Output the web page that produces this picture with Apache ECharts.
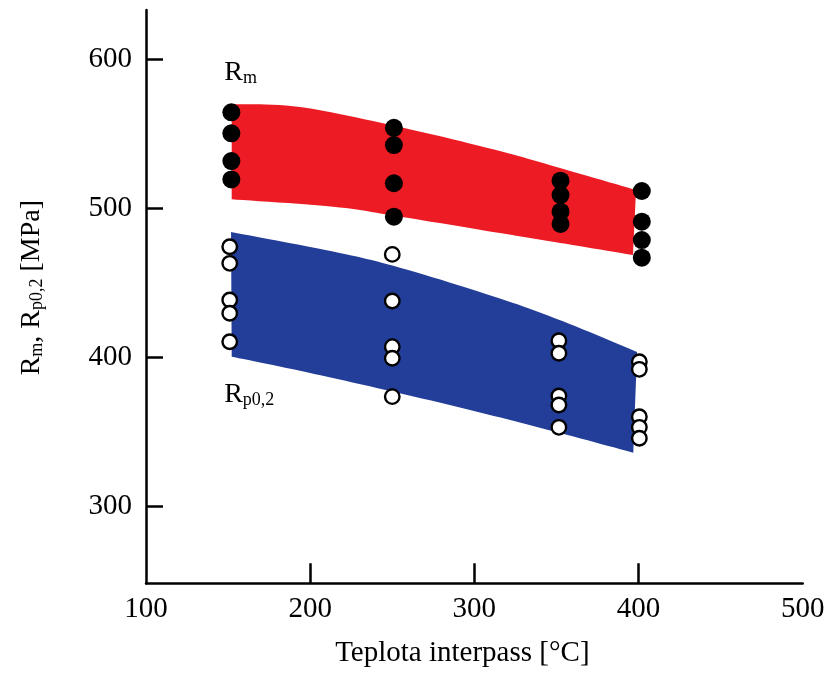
<!DOCTYPE html>
<html>
<head>
<meta charset="utf-8">
<script src="https://cdn.jsdelivr.net/npm/echarts@6/dist/echarts.min.js"></script>
<style>
html,body{margin:0;padding:0;background:#fff;}
#chart{width:833px;height:681px;}
</style>
</head>
<body>
<div id="chart"></div>
<script>
// ---- data ----
const xTickValues = [200, 300, 400];
const xLabelValues = [100, 200, 300, 400, 500];
const yTickValues = [300, 400, 500, 600];

// Rm points (filled black)
const rmTemp  = [152, 152, 152, 152, 251, 251, 251, 251, 352.5, 352.5, 352.5, 352.5, 402, 402, 402, 402];
const rmValue = [564.5, 550.4, 531.8, 519.5, 554.1, 542.5, 516.9, 494.5, 518.6, 509.0, 497.8, 489.6, 511.7, 491.1, 478.8, 467.0];

// Rp0,2 points (open circles)
const rpTemp  = [151, 151, 151, 151, 151, 250, 250, 250, 250, 250, 351.5, 351.5, 351.5, 351.5, 351.5, 400.5, 400.5, 400.5, 400.5, 400.5];
const rpValue = [474.3, 463.2, 438.6, 429.7, 410.6, 469.2, 437.9, 407.3, 399.5, 373.8, 411.3, 402.9, 374.2, 368.2, 353.2, 397.2, 392.1, 360.3, 353.2, 345.9];

// Rm scatter band (red)
const rmBandTopTemp  = [152.2, 193.8, 254.7, 315.6, 352.2, 398.5];
const rmBandTopValue = [570.0, 568.0, 554.6, 538.5, 527.1, 512.4];
const rmBandBotTemp  = [152.2, 213.9, 254.7, 315.6, 352.2, 396.6];
const rmBandBotValue = [506.1, 501.2, 494.5, 483.5, 476.9, 468.8];

// Rp0,2 scatter band (blue)
const rpBandTopTemp  = [151.8, 213.9, 254.7, 315.6, 354.0, 399.1];
const rpBandTopValue = [484.2, 471.1, 460.3, 439.6, 424.3, 403.7];
const rpBandBotTemp  = [152.2, 193.8, 250.6, 303.4, 352.2, 396.8];
const rpBandBotValue = [400.6, 391.1, 377.1, 363.2, 349.4, 336.2];

// annotation anchors
const annoTemp  = [157.6, 162.9];
const annoValue = [590.9, 374.9];

const FONT = "'Liberation Serif', 'Times New Roman', serif";

function zip(a, b) { return a.map((v, i) => [v, b[i]]); }

// Catmull-Rom smoothing of an edge in pixel space (rendering only)
function smoothEdge(pts, n) {
  const out = [];
  const L = pts.length;
  for (let i = 0; i < L - 1; i++) {
    const p0 = pts[Math.max(i - 1, 0)], p1 = pts[i], p2 = pts[i + 1], p3 = pts[Math.min(i + 2, L - 1)];
    for (let j = 0; j < n; j++) {
      const t = j / n, t2 = t * t, t3 = t2 * t;
      const f = (a, b, c, d) => 0.5 * ((2 * b) + (-a + c) * t + (2 * a - 5 * b + 4 * c - d) * t2 + (-a + 3 * b - 3 * c + d) * t3);
      out.push([f(p0[0], p1[0], p2[0], p3[0]), f(p0[1], p1[1], p2[1], p3[1])]);
    }
  }
  out.push(pts[L - 1]);
  return out;
}

function bandSeries(topT, topV, botT, botV, color) {
  return {
    type: 'custom',
    coordinateSystem: 'cartesian2d',
    silent: true,
    z: 1,
    data: [[topT[0], topV[0]]],
    renderItem: function (params, api) {
      const top = topT.map((t, i) => api.coord([t, topV[i]]));
      const bot = botT.map((t, i) => api.coord([t, botV[i]]));
      const pts = smoothEdge(top, 12).concat(smoothEdge(bot, 12).reverse());
      return { type: 'polygon', shape: { points: pts }, style: { fill: color, stroke: null } };
    }
  };
}

const chart = echarts.init(document.getElementById('chart'), null, { renderer: 'canvas' });
chart.setOption({
  animation: false,
  backgroundColor: '#ffffff',
  grid: { left: 146, right: 30.3, top: 10, bottom: 97.7, containLabel: false },
  xAxis: {
    type: 'value', min: 100, max: 500,
    name: 'Teplota interpass [°C]',
    nameLocation: 'middle', nameGap: 56,
    nameTextStyle: { fontFamily: FONT, fontSize: 29, color: '#000', padding: [0, 24, 0, 0] },
    axisLine: { show: true, lineStyle: { color: '#000', width: 2.5 } },
    axisTick: { show: true, inside: true, length: 20, customValues: xTickValues, lineStyle: { color: '#000', width: 2.5 } },
    axisLabel: { customValues: xLabelValues, margin: 12, fontFamily: FONT, fontSize: 29, color: '#000' },
    splitLine: { show: false }
  },
  yAxis: {
    type: 'value', min: 248.6, max: 633.1,
    name: '{r|R}{s|m}{r|, R}{s|p0,2}{r| [MPa]}',
    nameLocation: 'middle', nameGap: 100, nameRotate: 90,
    nameTextStyle: {
      padding: [0, 0, 0, 18],
      rich: {
        r: { fontFamily: FONT, fontSize: 28, color: '#000', lineHeight: 28, verticalAlign: 'bottom' },
        s: { fontFamily: FONT, fontSize: 18, color: '#000', lineHeight: 14, verticalAlign: 'bottom' }
      }
    },
    axisLine: { show: true, lineStyle: { color: '#000', width: 2.5 } },
    axisTick: { show: true, inside: true, length: 17, customValues: yTickValues, lineStyle: { color: '#000', width: 2.5 } },
    axisLabel: { customValues: yTickValues, margin: 14, fontFamily: FONT, fontSize: 29, color: '#000' },
    splitLine: { show: false }
  },
  series: [
    bandSeries(rmBandTopTemp, rmBandTopValue, rmBandBotTemp, rmBandBotValue, '#ED1C24'),
    bandSeries(rpBandTopTemp, rpBandTopValue, rpBandBotTemp, rpBandBotValue, '#233E99'),
    {
      type: 'scatter', z: 3, silent: true,
      symbol: 'circle', symbolSize: 14.5,
      itemStyle: { color: '#ffffff', borderColor: '#000', borderWidth: 2.4, opacity: 1 },
      data: zip(rpTemp, rpValue)
    },
    {
      type: 'scatter', z: 4, silent: true,
      symbol: 'circle', symbolSize: 18,
      itemStyle: { color: '#000', opacity: 1 },
      data: zip(rmTemp, rmValue)
    },
    {
      type: 'scatter', z: 5, silent: true,
      symbolSize: 0,
      itemStyle: { color: '#000', opacity: 1 },
      label: {
        show: true, position: 'inside', color: '#000', textBorderWidth: 0,
        formatter: function (p) { return p.dataIndex === 0 ? '{r|R}{s|m}' : '{r|R}{s|p0,2}'; },
        rich: {
          r: { fontFamily: FONT, fontSize: 28, color: '#000', textBorderWidth: 0, lineHeight: 28, verticalAlign: 'bottom' },
          s: { fontFamily: FONT, fontSize: 18, color: '#000', textBorderWidth: 0, lineHeight: 16, verticalAlign: 'bottom' }
        }
      },
      data: zip(annoTemp, annoValue)
    }
  ]
});
</script>
</body>
</html>
